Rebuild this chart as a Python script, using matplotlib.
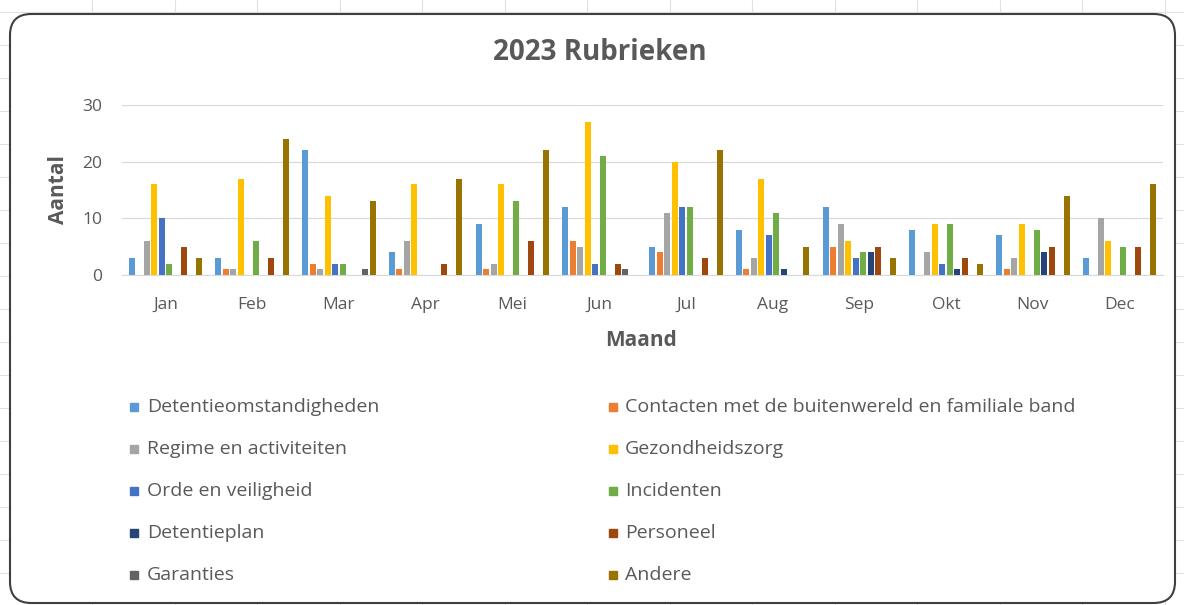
import matplotlib.pyplot as plt
import numpy as np
from matplotlib.patches import FancyBboxPatch
from matplotlib.lines import Line2D

plt.rcParams['font.family'] = ['Open Sans', 'DejaVu Sans']

months = ['Jan', 'Feb', 'Mar', 'Apr', 'Mei', 'Jun', 'Jul', 'Aug', 'Sep', 'Okt', 'Nov', 'Dec']
series = ['Detentieomstandigheden', 'Contacten met de buitenwereld en familiale band',
          'Regime en activiteiten', 'Gezondheidszorg', 'Orde en veiligheid', 'Incidenten',
          'Detentieplan', 'Personeel', 'Garanties', 'Andere']
colors = ['#5B9BD5', '#ED7D31', '#A5A5A5', '#FFC000', '#4472C4', '#70AD47',
          '#264478', '#9E480E', '#636363', '#997300']

detentieomstandigheden = [3, 3, 22, 4, 9, 12, 5, 8, 12, 8, 7, 3]
contacten = [0, 1, 2, 1, 1, 6, 4, 1, 5, 0, 1, 0]
regime = [6, 1, 1, 6, 2, 5, 11, 3, 9, 4, 3, 10]
gezondheidszorg = [16, 17, 14, 16, 16, 27, 20, 17, 6, 9, 9, 6]
orde = [10, 0, 2, 0, 0, 2, 12, 7, 3, 2, 0, 0]
incidenten = [2, 6, 2, 0, 13, 21, 12, 11, 4, 9, 8, 5]
detentieplan = [0, 0, 0, 0, 0, 0, 0, 1, 4, 1, 4, 0]
personeel = [5, 3, 0, 2, 6, 2, 3, 0, 5, 3, 5, 5]
garanties = [0, 0, 1, 0, 0, 1, 0, 0, 0, 0, 0, 0]
andere = [3, 24, 13, 17, 22, 0, 22, 5, 3, 2, 14, 16]

values = [detentieomstandigheden, contacten, regime, gezondheidszorg, orde,
          incidenten, detentieplan, personeel, garanties, andere]

W, H = 1184, 605
fig = plt.figure(figsize=(W / 100, H / 100), dpi=100)

# spreadsheet grid behind the chart
for gx in [92, 175, 257, 340, 422, 505, 587, 670, 752, 835, 917, 1000, 1082, 1165]:
    fig.add_artist(Line2D([gx / W, gx / W], [1, 0], color='#E1E1E1', lw=0.8, zorder=-3))
for gy in [12, 45, 78, 111, 144, 177, 210, 243, 276, 309, 342, 375, 408, 441, 474, 507, 540, 573]:
    fig.add_artist(Line2D([0, 1], [1 - gy / H, 1 - gy / H], color='#E1E1E1', lw=0.8, zorder=-3))

frame = FancyBboxPatch((10 / W, 1 - 603 / H), 1165 / W, 589 / H,
                       boxstyle='round,pad=0,rounding_size=0.018',
                       transform=fig.transFigure, facecolor='white',
                       edgecolor='#3F3F3F', lw=1.5, mutation_aspect=W / H, zorder=-2)
fig.add_artist(frame)

ax = fig.add_axes([122 / W, 1 - 275 / H, 1041 / W, 170 / H])
ax.set_facecolor('none')

x = np.arange(len(months))
slot = 0.0865
for i, (name, vals) in enumerate(zip(series, values)):
    ax.bar(x + (i - 4.5) * slot, vals, width=0.068, color=colors[i], label=name, zorder=3)

ax.set_xlim(-0.5, 11.5)
ax.set_ylim(0, 30)
ax.set_yticks([0, 10, 20, 30])
ax.set_xticks(x)
ax.set_xticklabels(months)
ax.grid(axis='y', color='#D9D9D9', lw=0.9, zorder=0)
for s in ['top', 'right', 'left']:
    ax.spines[s].set_visible(False)
ax.spines['bottom'].set_color('#D9D9D9')
ax.tick_params(length=0, colors='#595959', labelsize=12.5)
ax.tick_params(axis='x', pad=16)
ax.tick_params(axis='y', pad=14)

fig.text(600 / W, 1 - 53 / H, '2023 Rubrieken', ha='center', va='center',
         fontsize=20, fontweight='bold', color='#595959')
fig.text(58 / W, 1 - 190 / H, 'Aantal', ha='center', va='center', rotation=90,
         fontsize=15, fontweight='bold', color='#595959')
fig.text(641 / W, 1 - 341 / H, 'Maand', ha='center', va='center',
         fontsize=15, fontweight='bold', color='#595959')

# legend, two columns filled row-wise
rows_y = [407, 449, 491, 533, 575]
for col, (mx, tx) in enumerate([(134, 147), (613, 625)]):
    for r, yy in enumerate(rows_y):
        i = r * 2 + col
        fig.add_artist(Line2D([mx / W], [1 - yy / H], marker='s', markersize=6,
                              color=colors[i], linestyle='none'))
        fig.text(tx / W, 1 - yy / H, series[i], ha='left', va='center',
                 fontsize=14, color='#595959')

fig.savefig('out.png', dpi=100)
